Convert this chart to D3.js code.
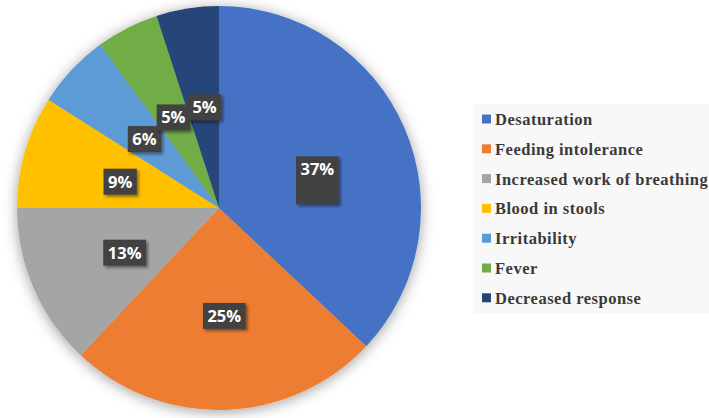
<!DOCTYPE html>
<html>
<head>
<meta charset="utf-8">
<script src="https://cdn.jsdelivr.net/npm/d3@7"></script>
<style>
  body { margin: 0; background: #fff; }
</style>
</head>
<body>
<div id="chart"></div>
<script>
/* Data */
var categories = ["Desaturation", "Feeding intolerance", "Increased work of breathing",
                  "Blood in stools", "Irritability", "Fever", "Decreased response"];
var values = [37, 25, 13, 9, 6, 5, 5];
var labels = ["37%", "25%", "13%", "9%", "6%", "5%", "5%"];
var colors = ["#4472C4", "#ED7D31", "#A5A5A5", "#FFC000", "#5B9BD5", "#70AD47", "#264478"];

/* Overall SVG Container */
var width = 709,
    height = 418,
    cx = 219,
    cy = 208,
    radius = 202;

var svg = d3.select("#chart")
    .append("svg")
    .attr("width", width)
    .attr("height", height);

var defs = svg.append("defs");

/* soft glow round the pie */
var glow = defs.append("filter").attr("id", "pieShadow")
    .attr("x", "-20%").attr("y", "-20%").attr("width", "140%").attr("height", "140%");
glow.append("feDropShadow")
    .attr("dx", 0).attr("dy", 2)
    .attr("stdDeviation", 7)
    .attr("flood-color", "#000")
    .attr("flood-opacity", 0.38);

/* shadow under label boxes */
var boxShadow = defs.append("filter").attr("id", "boxShadow")
    .attr("x", "-30%").attr("y", "-30%").attr("width", "160%").attr("height", "160%");
boxShadow.append("feDropShadow")
    .attr("dx", 2).attr("dy", 2)
    .attr("stdDeviation", 1.8)
    .attr("flood-color", "#000")
    .attr("flood-opacity", 0.45);

/* dotted texture of label boxes */
var pattern = defs.append("pattern").attr("id", "dots")
    .attr("patternUnits", "userSpaceOnUse")
    .attr("width", 4).attr("height", 4);
pattern.append("rect").attr("width", 4).attr("height", 4).attr("fill", "#3f3f3f");
pattern.append("circle").attr("cx", 1).attr("cy", 1).attr("r", 0.8).attr("fill", "#4b4b4b");
pattern.append("circle").attr("cx", 3).attr("cy", 3).attr("r", 0.8).attr("fill", "#4b4b4b");

var pie = d3.pie().sort(null).value(function(d) { return d; });
var arcs = pie(values);

var arc = d3.arc().innerRadius(0).outerRadius(radius);
var labelArc = d3.arc().innerRadius(105).outerRadius(105);

var g = svg.append("g").attr("transform", "translate(" + cx + "," + cy + ")");

/* Draw slices */
g.append("g")
    .attr("filter", "url(#pieShadow)")
    .selectAll("path")
    .data(arcs)
    .enter().append("path")
    .attr("d", arc)
    .attr("fill", function(d, i) { return colors[i]; });

/* Data labels */
var extraHeight = [22, 0, 0, 0, 0, 0, 0]; // first box drawn taller in the original
var lab = g.append("g")
    .selectAll("g")
    .data(arcs)
    .enter().append("g")
    .attr("transform", function(d) {
        var c = labelArc.centroid(d);
        return "translate(" + (c[0] + 2) + "," + (c[1] + 3) + ")";
    });

lab.append("text")
    .attr("text-anchor", "middle")
    .attr("y", 6)
    .attr("font-family", "'Open Sans', 'DejaVu Sans', sans-serif")
    .attr("font-weight", "bold")
    .attr("font-size", 16.5)
    .attr("fill", "#fff")
    .text(function(d, i) { return labels[i]; });

lab.each(function(d, i) {
    var grp = d3.select(this);
    var w = grp.select("text").node().getComputedTextLength() + 9;
    var h = 26 + extraHeight[i];
    grp.insert("rect", "text")
        .attr("x", -w / 2)
        .attr("y", -13)
        .attr("width", w)
        .attr("height", h)
        .attr("fill", "url(#dots)")
        .attr("filter", "url(#boxShadow)");
});

/* Draw Legend */
var legendX = 473, legendY = 104, rowH = 29.8;

svg.append("rect")
    .attr("x", legendX)
    .attr("y", legendY)
    .attr("width", width - legendX)
    .attr("height", 209)
    .attr("fill", "#f8f8f8");

var legend = svg.append("g")
    .selectAll("g")
    .data(categories)
    .enter().append("g")
    .attr("transform", function(d, i) { return "translate(" + (legendX + 9) + "," + (legendY + 15 + i * rowH) + ")"; });

legend.append("rect")
    .attr("x", 0)
    .attr("y", -4.5)
    .attr("width", 9)
    .attr("height", 9)
    .attr("fill", function(d, i) { return colors[i]; });

legend.append("text")
    .attr("x", 13)
    .attr("y", 6)
    .attr("font-family", "'Liberation Serif', 'Times New Roman', serif")
    .attr("font-weight", "bold")
    .attr("font-size", 16.5)
    .attr("letter-spacing", 0.5)
    .attr("fill", "#3a3a3a")
    .text(function(d) { return d; });
</script>
</body>
</html>
